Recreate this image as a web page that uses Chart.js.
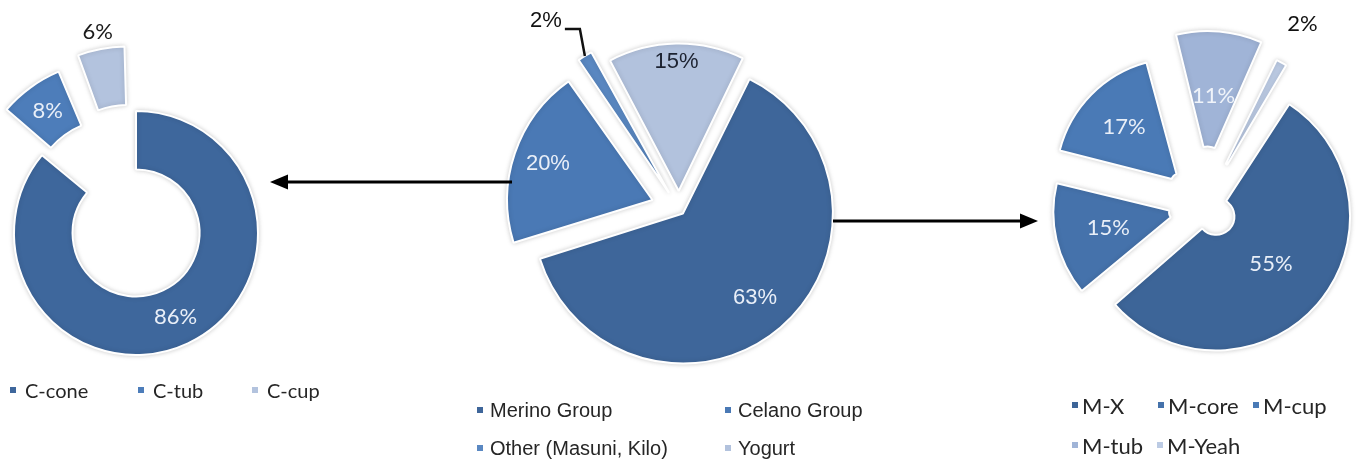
<!DOCTYPE html>
<html>
<head>
<meta charset="utf-8">
<script src="https://cdn.jsdelivr.net/npm/chart.js@4.4.1/dist/chart.umd.min.js"></script>
<style>
  html, body { margin: 0; padding: 0; background: #fff; overflow: hidden; }
  #stage { position: relative; width: 1356px; height: 461px; }
  #stage canvas { position: absolute; left: 0; top: 0; }
  .legend-item { position: absolute; height: 28px; display: flex; align-items: center; white-space: nowrap; color: #262626; }
  .legend-item i { display: inline-block; width: 6px; height: 6px; }
</style>
</head>
<body>
<div id="stage">
  <canvas id="coneChart" width="1356" height="461"></canvas>
  <canvas id="groupChart" width="1356" height="461"></canvas>
  <canvas id="merinoChart" width="1356" height="461"></canvas>
</div>
<script>
// Shares by brand (percent)
const coneLabels = ['C-cone', 'C-tub', 'C-cup'];
const coneShares = [86, 8, 6];

const groupLabels = ['Merino Group', 'Celano Group', 'Other (Masuni, Kilo)', 'Yogurt'];
const groupShares = [63, 20, 2, 15];

const merinoLabels = ['M-X', 'M-core', 'M-cup', 'M-tub', 'M-Yeah'];
const merinoShares = [55, 15, 17, 11, 2];

// Colours and how far each slice is pulled out (px)
const coneColors = ['#3e679c', '#4d7dba', '#b3c3de'];
const groupColors = ['#3e669a', '#4a79b5', '#5a88c2', '#b2c2dd'];
const merinoColors = ['#3d6598', '#4572ab', '#4a7ab6', '#a0b4d7', '#bccbe4'];

const coneBurst = [0, 38, 40];
const groupBurst = [6, 28, 19, 18];
const merinoBurst = [16, 28, 36, 42, 24];

const W = 1356, H = 461;
const stage = document.getElementById('stage');

// padding that puts the chart area's centre on (cx, cy)
function centreAt(cx, cy) {
    return {
        left: Math.max(0, 2 * cx - W), right: Math.max(0, W - 2 * cx),
        top: Math.max(0, 2 * cy - H), bottom: Math.max(0, H - 2 * cy)
    };
}

const sliceShadow = {
    id: 'sliceShadow',
    beforeDatasetsDraw(chart) {
        const c = chart.ctx;
        c.save();
        c.shadowColor = 'rgba(0, 0, 0, 0.18)';
        c.shadowBlur = 5;
    },
    afterDatasetsDraw(chart) { chart.ctx.restore(); }
};

// percent labels, placed along each slice's (pulled out) middle
const sliceLabels = {
    id: 'sliceLabels',
    afterDatasetsDraw(chart, args, opts) {
        const ctx = chart.ctx;
        const values = chart.data.datasets[0].data;
        ctx.save();
        ctx.font = opts.font;
        ctx.textBaseline = 'middle';
        chart.getDatasetMeta(0).data.forEach((arc, i) => {
            const p = arc.getProps(['x', 'y', 'startAngle', 'endAngle', 'innerRadius', 'outerRadius']);
            const shift = (arc.options.offset || 0) / 4;
            const sweep = p.endAngle - p.startAngle;
            const grow = shift * (1 - Math.sin(Math.min(Math.PI, sweep)));
            const inner = p.innerRadius > 0 ? p.innerRadius + grow : 0;
            const outer = p.outerRadius + grow;
            const mid = (p.startAngle + p.endAngle) / 2;
            const cx = p.x + Math.cos(mid) * shift;
            const cy = p.y + Math.sin(mid) * shift;
            const text = values[i] + '%';
            ctx.fillStyle = opts.colors[i];

            if (opts.callout === i) {
                const ex = cx + Math.cos(mid) * outer, ey = cy + Math.sin(mid) * outer;
                ctx.strokeStyle = '#111';
                ctx.lineWidth = 2.5;
                ctx.beginPath();
                ctx.moveTo(ex, ey);
                ctx.lineTo(ex - 5, ey - 27);
                ctx.lineTo(ex - 20, ey - 27);
                ctx.stroke();
                ctx.textAlign = 'right';
                ctx.fillText(text, ex - 23, ey - 35);
                return;
            }
            const r = inner + opts.depth[i] * (outer - inner);
            ctx.textAlign = 'center';
            ctx.fillText(text, cx + Math.cos(mid) * r, cy + Math.sin(mid) * r);
        });
        ctx.restore();
    }
};

// linking arrows between the pies
const linkArrows = {
    id: 'linkArrows',
    afterDraw(chart) {
        const ctx = chart.ctx;
        const arrow = (from, to, y) => {
            const dir = Math.sign(to - from);
            ctx.beginPath();
            ctx.moveTo(from, y);
            ctx.lineTo(to - dir * 14, y);
            ctx.stroke();
            ctx.beginPath();
            ctx.moveTo(to, y);
            ctx.lineTo(to - dir * 18, y - 7.5);
            ctx.lineTo(to - dir * 18, y + 7.5);
            ctx.closePath();
            ctx.fill();
        };
        ctx.save();
        ctx.strokeStyle = '#000';
        ctx.fillStyle = '#000';
        ctx.lineWidth = 3;
        arrow(512, 270, 182);
        arrow(833, 1038, 221);
        ctx.restore();
    }
};

function pieChart(id, labels, shares, colors, burst, extra) {
    return new Chart(document.getElementById(id), {
        type: 'doughnut',
        data: {
            labels: labels,
            datasets: [{
                data: shares,
                backgroundColor: colors,
                borderColor: '#ffffff',
                borderWidth: 2,
                offset: burst.map(px => px * 4)
            }]
        },
        options: Object.assign({
            responsive: false,
            animation: false,
            events: [],
            plugins: {
                legend: { display: false },
                tooltip: { enabled: false },
                sliceLabels: extra.labels
            }
        }, extra.options),
        plugins: [sliceShadow, sliceLabels].concat(extra.plugins || [])
    });
}

pieChart('coneChart', coneLabels, coneShares, coneColors, coneBurst, {
    options: { rotation: 0, cutout: '52%', radius: 122, layout: { padding: centreAt(136, 233) } },
    labels: {
        font: '22px Lato',
        depth: [0.5, 0.5, 1.3],
        colors: ['#e9eff8', '#e9eff8', '#1a1a1a']
    }
});

pieChart('groupChart', groupLabels, groupShares, groupColors, groupBurst, {
    options: { rotation: 26, cutout: 0, radius: 144, layout: { padding: centreAt(679, 209) } },
    labels: {
        font: '22px "Liberation Sans"',
        depth: [0.74, 0.76, 1, 0.875],
        colors: ['#e9eff8', '#e9eff8', '#111111', '#1c2230'],
        callout: 2
    },
    plugins: [linkArrows]
});

pieChart('merinoChart', merinoLabels, merinoShares, merinoColors, merinoBurst, {
    options: { rotation: 32, cutout: '2%', radius: 118, layout: { padding: centreAt(1204, 206) } },
    labels: {
        font: '22px Lato',
        depth: [0.47, 0.54, 0.6, 0.44, 1.38],
        colors: ['#e9eff8', '#e9eff8', '#e9eff8', '#f0f4fa', '#111111']
    }
});

// HTML legends under each pie
function buildLegend(labels, colors, spots, font, gap) {
    labels.forEach((label, i) => {
        const item = document.createElement('div');
        item.className = 'legend-item';
        item.style.left = spots[i][0] + 'px';
        item.style.top = (spots[i][1] - 14) + 'px';
        item.style.font = font;
        item.innerHTML = `<i style="background:${colors[i]};margin-right:${gap}px"></i>${label}`;
        stage.appendChild(item);
    });
}

buildLegend(coneLabels, coneColors, [[10, 390], [138, 390], [252, 390]], '20px Lato', 9);
buildLegend(groupLabels, groupColors, [[477, 410], [725, 410], [477, 448], [725, 448]], '20px "Liberation Sans"', 7);
buildLegend(merinoLabels, merinoColors, [[1072, 405], [1158, 405], [1253, 405], [1072, 445], [1157, 445]], '22px Lato', 4);
</script>
</body>
</html>
